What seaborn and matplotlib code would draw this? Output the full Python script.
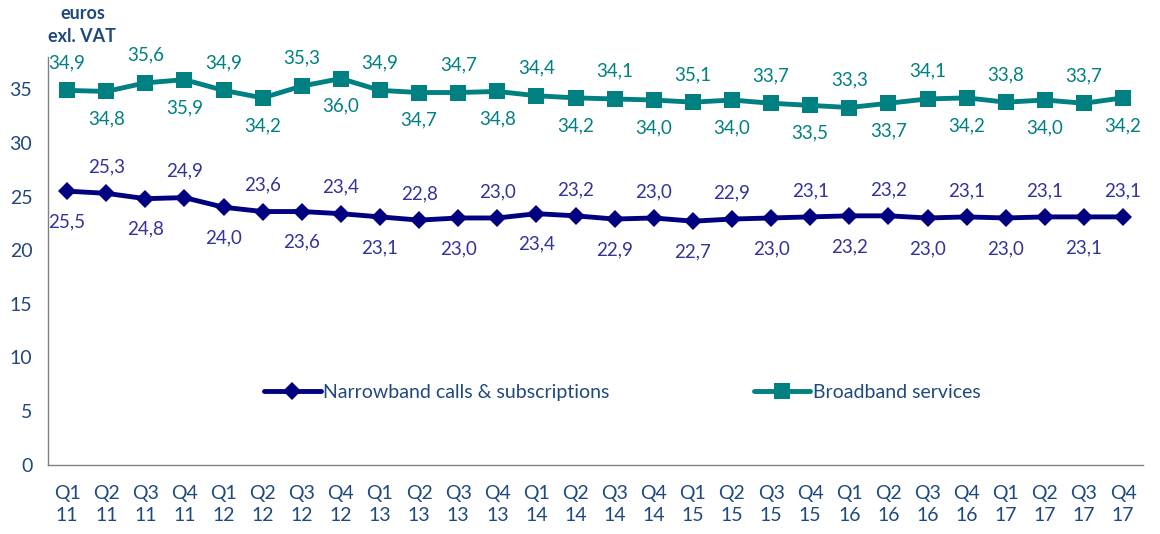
import seaborn as sns
import matplotlib.pyplot as plt
import pandas as pd

# quarters shown on the x axis
quarters = ["Q1\n11", "Q2\n11", "Q3\n11", "Q4\n11",
            "Q1\n12", "Q2\n12", "Q3\n12", "Q4\n12",
            "Q1\n13", "Q2\n13", "Q3\n13", "Q4\n13",
            "Q1\n14", "Q2\n14", "Q3\n14", "Q4\n14",
            "Q1\n15", "Q2\n15", "Q3\n15", "Q4\n15",
            "Q1\n16", "Q2\n16", "Q3\n16", "Q4\n16",
            "Q1\n17", "Q2\n17", "Q3\n17", "Q4\n17"]

narrowband = [25.5, 25.3, 24.8, 24.9, 24.0, 23.6, 23.6, 23.4,
              23.1, 22.8, 23.0, 23.0, 23.4, 23.2, 22.9, 23.0,
              22.7, 22.9, 23.0, 23.1, 23.2, 23.2, 23.0, 23.1,
              23.0, 23.1, 23.1, 23.1]

broadband = [34.9, 34.8, 35.6, 35.9, 34.9, 34.2, 35.3, 36.0,
             34.9, 34.7, 34.7, 34.8, 34.4, 34.2, 34.1, 34.0,
             33.8, 34.0, 33.7, 33.5, 33.3, 33.7, 34.1, 34.2,
             33.8, 34.0, 33.7, 34.2]

# labels as printed on the chart (Q1 15 broadband label reads 35,1)
narrowband_labels = ["25,5", "25,3", "24,8", "24,9", "24,0", "23,6", "23,6", "23,4",
                     "23,1", "22,8", "23,0", "23,0", "23,4", "23,2", "22,9", "23,0",
                     "22,7", "22,9", "23,0", "23,1", "23,2", "23,2", "23,0", "23,1",
                     "23,0", "23,1", "23,1", "23,1"]
broadband_labels = ["34,9", "34,8", "35,6", "35,9", "34,9", "34,2", "35,3", "36,0",
                    "34,9", "34,7", "34,7", "34,8", "34,4", "34,2", "34,1", "34,0",
                    "35,1", "34,0", "33,7", "33,5", "33,3", "33,7", "34,1", "34,2",
                    "33,8", "34,0", "33,7", "34,2"]

sns.set_style("white")
plt.rcParams['font.family'] = ['Lato', 'DejaVu Sans']

nb_col = "#000080"
nb_txt = "#333399"
bb_col = "#008080"
tick_col = "#1F497D"

df = pd.DataFrame({"x": range(len(quarters)),
                   "Narrowband calls & subscriptions": narrowband,
                   "Broadband services": broadband})

fig, ax = plt.subplots(figsize=(11.6, 5.34), dpi=100)

sns.lineplot(data=df, x="x", y="Narrowband calls & subscriptions", ax=ax,
             color=nb_col, lw=3.5, marker="D", markersize=9, markeredgewidth=0,
             label="Narrowband calls & subscriptions")
sns.lineplot(data=df, x="x", y="Broadband services", ax=ax,
             color=bb_col, lw=3.5, marker="s", markersize=11, markeredgewidth=0,
             label="Broadband services")

# data labels alternate above / below
for i, (v, t) in enumerate(zip(narrowband, narrowband_labels)):
    off = -22 if i % 2 == 0 else 19
    ax.annotate(t, (i, v), xytext=(0, off), textcoords="offset points",
                ha="center", va="center", fontsize=13.5, color=nb_txt)
for i, (v, t) in enumerate(zip(broadband, broadband_labels)):
    off = 20 if i % 2 == 0 else -20
    ax.annotate(t, (i, v), xytext=(0, off), textcoords="offset points",
                ha="center", va="center", fontsize=13.5, color=bb_col)

ax.set_xlim(-0.5, len(quarters) - 0.5)
ax.set_ylim(0, 38)
ax.set_yticks(range(0, 40, 5))
ax.set_xticks([i - 0.5 for i in range(len(quarters) + 1)])
ax.set_xticklabels([])
ax.set_xticks(range(len(quarters)), minor=True)
ax.set_xticklabels(quarters, minor=True, linespacing=1.3)
ax.tick_params(axis="x", which="major", length=5, color="#808080", direction="out")
ax.tick_params(axis="x", which="minor", length=0, pad=15, labelsize=14, labelcolor=tick_col)
ax.tick_params(axis="y", length=5, color="#808080", direction="out", labelsize=14,
               labelcolor=tick_col, pad=6)
ax.set_xlabel("")
ax.set_ylabel("")

for s in ["top", "right"]:
    ax.spines[s].set_visible(False)
for s in ["left", "bottom"]:
    ax.spines[s].set_color("#808080")
    ax.spines[s].set_linewidth(1)

ax.legend(loc="center", bbox_to_anchor=(0.525, 0.177), ncol=2, frameon=False,
          fontsize=14, labelcolor=tick_col, columnspacing=7.4, handlelength=2.9,
          handletextpad=0.15)

fig.text(0.071, 0.975, "euros", ha="center", va="center", fontsize=13,
         fontweight="bold", color=tick_col)
fig.text(0.071, 0.932, "exl. VAT", ha="center", va="center", fontsize=13,
         fontweight="bold", color=tick_col)

plt.subplots_adjust(left=0.041, right=0.985, top=0.893, bottom=0.13)
plt.savefig("out.png", dpi=100)
